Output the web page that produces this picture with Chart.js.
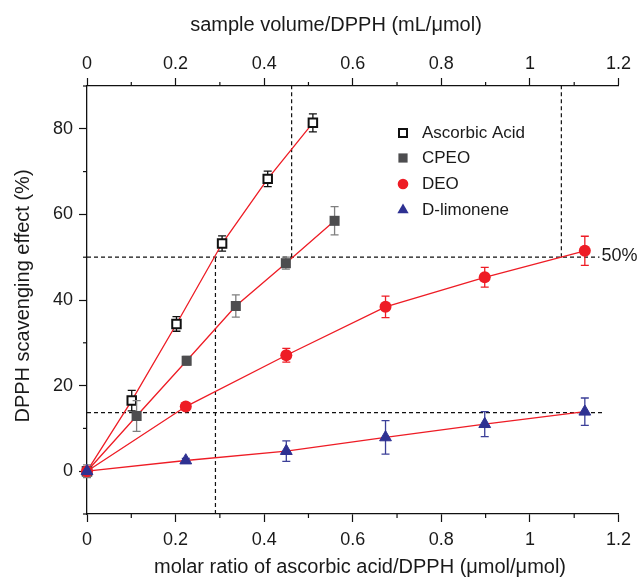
<!DOCTYPE html>
<html><head><meta charset="utf-8">
<script src="https://cdn.jsdelivr.net/npm/chart.js"></script>
<style>html,body{margin:0;padding:0;background:#fff}#wrap{width:638px;height:578px;position:relative}</style>
</head><body><div id="wrap"><canvas id="c" width="638" height="578"></canvas></div>
<script>
// ---- data ----
const seriesNames = ['Ascorbic Acid', 'CPEO', 'DEO', 'D-limonene'];
const ascX = [0, 0.101, 0.202, 0.305, 0.408, 0.510];
const ascY = [0, 16.5, 34.4, 53.2, 68.3, 81.4];
const ascErr = [0, 2.4, 1.7, 1.8, 1.8, 2.1];
const cpeoX = [0, 0.112, 0.225, 0.336, 0.449, 0.559];
const cpeoY = [0, 12.9, 25.8, 38.6, 48.6, 58.5];
const cpeoErr = [1.5, 3.6, 1.0, 2.6, 1.4, 3.3];
const deoX = [0, 0.223, 0.450, 0.674, 0.898, 1.124];
const deoY = [0, 15.1, 27.1, 38.4, 45.3, 51.5];
const deoErr = [0, 0.8, 1.6, 2.5, 2.3, 3.4];
const limX = [0, 0.223, 0.450, 0.674, 0.898, 1.124];
const limY = [0, 2.5, 4.7, 7.9, 11.0, 13.9];
const limErr = [0, 0.5, 2.4, 3.9, 2.9, 3.2];
// reference (dashed) lines
const hRefY = [50, 13.7];
const hRefEndX = [1.157, 1.164];
const vRefX = [0.290, 0.462, 1.071];
const vRefFromY = [-10, 50, 50];
const vRefToY = [50, 90, 90];
const refLabel = '50%';
// axes
const xTickLabels = ['0', '0.2', '0.4', '0.6', '0.8', '1', '1.2'];
const yTickLabels = ['0', '20', '40', '60', '80'];
const xTitle = 'molar ratio of ascorbic acid/DPPH (\u03bcmol/\u03bcmol)';
const x2Title = 'sample volume/DPPH (mL/\u03bcmol)';
const yTitle = 'DPPH scavenging effect (%)';

const TXT = '#1a1a1a';
const FONT = '"Liberation Sans", Arial, sans-serif';
const RED = '#ee1c25';

function pts(xs, ys) { return xs.map((x, i) => ({x: x, y: ys[i]})); }

const datasets = [
  {label: seriesNames[0], data: pts(ascX, ascY), errors: ascErr, errorColor: '#111',
   borderColor: RED, borderWidth: 1.3, pointStyle: 'rect', pointRadius: 6, pointBorderWidth: 2,
   pointBackgroundColor: '#fff', pointBorderColor: '#111', order: 4, clip: false},
  {label: seriesNames[1], data: pts(cpeoX, cpeoY), errors: cpeoErr, errorColor: '#7f7f7f',
   borderColor: RED, borderWidth: 1.3, pointStyle: 'rect', pointRadius: 7.1, pointBorderWidth: 0,
   pointBackgroundColor: '#4d4d4f', pointBorderColor: '#4d4d4f', order: 3, clip: false},
  {label: seriesNames[2], data: pts(deoX, deoY), errors: deoErr, errorColor: RED,
   borderColor: RED, borderWidth: 1.3, pointStyle: 'circle', pointRadius: 6, pointBorderWidth: 0,
   pointBackgroundColor: RED, pointBorderColor: RED, order: 2, clip: false},
  {label: seriesNames[3], data: pts(limX, limY), errors: limErr, errorColor: '#3b3f98',
   borderColor: RED, borderWidth: 1.3, pointStyle: 'triangle', pointRadius: 6.8, pointBorderWidth: 1,
   pointBackgroundColor: '#2e3192', pointBorderColor: '#2e3192', order: 1, clip: false}
];
hRefY.forEach((y, i) => datasets.push({
  label: 'ref', data: [{x: 0, y: y}, {x: hRefEndX[i], y: y}], borderColor: '#111', borderWidth: 1.2,
  borderDash: [4, 3], pointRadius: 0, order: 10, isRef: true, clip: false}));
vRefX.forEach((x, i) => datasets.push({
  label: 'ref', data: [{x: x, y: vRefFromY[i]}, {x: x, y: vRefToY[i]}], borderColor: '#111', borderWidth: 1.2,
  borderDash: [4, 3], pointRadius: 0, order: 10, isRef: true, clip: false}));

const errPlugin = {
  id: 'errbars',
  beforeDatasetDraw(chart, args) {
    const ds = chart.data.datasets[args.index];
    if (!ds.errors) return;
    const ctx = chart.ctx, xs = chart.scales.x, ys = chart.scales.y;
    ctx.save();
    ctx.strokeStyle = ds.errorColor; ctx.lineWidth = 1.3;
    ds.data.forEach((p, i) => {
      const e = ds.errors[i]; if (!e) return;
      const px = xs.getPixelForValue(p.x);
      const y1 = ys.getPixelForValue(p.y + e), y2 = ys.getPixelForValue(p.y - e);
      ctx.beginPath();
      ctx.moveTo(px, y1); ctx.lineTo(px, y2);
      ctx.moveTo(px - 4, y1); ctx.lineTo(px + 4, y1);
      ctx.moveTo(px - 4, y2); ctx.lineTo(px + 4, y2);
      ctx.stroke();
    });
    ctx.restore();
  }
};

const minorTickPlugin = {
  id: 'minorTicks',
  afterDraw(chart) {
    const ctx = chart.ctx;
    ctx.save();
    ctx.strokeStyle = '#111'; ctx.lineWidth = 1.2;
    ['x', 'x2', 'y'].forEach(id => {
      const s = chart.scales[id];
      s.ticks.forEach((t, i) => {
        if (t.label !== '') return;
        const p = s.getPixelForTick(i);
        ctx.beginPath();
        if (id === 'x') { ctx.moveTo(p, s.top); ctx.lineTo(p, s.top + 4); }
        else if (id === 'x2') { ctx.moveTo(p, s.bottom); ctx.lineTo(p, s.bottom - 4); }
        else { ctx.moveTo(s.right, p); ctx.lineTo(s.right - 4, p); }
        ctx.stroke();
      });
    });
    ctx.restore();
  }
};

const textPlugin = {
  id: 'texts',
  afterDraw(chart) {
    const ctx = chart.ctx;
    const xs = chart.scales.x, ys = chart.scales.y;
    ctx.save();
    ctx.fillStyle = TXT;
    ctx.font = '20px ' + FONT;
    ctx.textAlign = 'center'; ctx.textBaseline = 'middle';
    ctx.fillText(xTitle, 360, 567);
    ctx.fillText(x2Title, 336, 25);
    ctx.save();
    ctx.translate(23, 296); ctx.rotate(-Math.PI / 2);
    ctx.fillText(yTitle, 0, 0);
    ctx.restore();
    // 50% label
    ctx.font = '18px ' + FONT;
    ctx.textAlign = 'left';
    ctx.fillText(refLabel, xs.getPixelForValue(hRefEndX[0]) + 2, ys.getPixelForValue(hRefY[0]) - 1);
    // legend
    const lx = 403, tx = 422, rows = [133, 158, 184, 210];
    ctx.font = '17px ' + FONT;
    seriesNames.forEach((name, i) => {
      const y = rows[i];
      const ds = chart.data.datasets[i];
      ctx.save();
      ctx.fillStyle = ds.pointBackgroundColor; ctx.strokeStyle = ds.pointBorderColor;
      ctx.beginPath();
      if (i === 0) { ctx.lineWidth = 2; ctx.rect(lx - 4, y - 4, 8, 8); ctx.fill(); ctx.stroke(); }
      else if (i === 1) { ctx.rect(lx - 4.6, y - 4.6, 9.2, 9.2); ctx.fill(); }
      else if (i === 2) { ctx.arc(lx, y, 5.3, 0, Math.PI * 2); ctx.fill(); }
      else { const r = 6.5; ctx.moveTo(lx, y - r); ctx.lineTo(lx + r * 0.866, y + r * 0.5); ctx.lineTo(lx - r * 0.866, y + r * 0.5); ctx.closePath(); ctx.fill(); }
      ctx.restore();
      ctx.fillStyle = TXT;
      ctx.fillText(name, tx, y);
    });
    ctx.restore();
  }
};

function xTickCb(v) { const i = Math.round(v * 10); return i % 2 === 0 ? xTickLabels[i / 2] : ''; }
function yTickCb(v) { const i = Math.round(v); return (i >= 0 && i % 20 === 0) ? yTickLabels[i / 20] : ''; }
function tickCol(ctx) { return (ctx.tick && ctx.tick.label === '') ? 'rgba(0,0,0,0)' : '#111'; }

const tickFont = {family: FONT, size: 18};

new Chart(document.getElementById('c'), {
  type: 'line',
  data: {datasets: datasets},
  options: {
    responsive: false, animation: false, devicePixelRatio: 1,
    layout: {padding: {left: 0, right: 19, top: 0, bottom: 0}},
    plugins: {legend: {display: false}, tooltip: {enabled: false}},
    elements: {line: {tension: 0, fill: false}},
    scales: {
      x: {type: 'linear', position: 'bottom', min: 0, max: 1.2,
          afterFit(s) { s.height = 64; },
          border: {display: true, color: '#111', width: 1.3},
          grid: {drawOnChartArea: false, drawTicks: true, tickLength: 8, tickColor: tickCol, tickWidth: 1.2},
          ticks: {stepSize: 0.1, autoSkip: false, maxRotation: 0, padding: 7, color: TXT, font: tickFont, callback: xTickCb}},
      x2: {type: 'linear', position: 'top', min: 0, max: 1.2, display: true,
          afterFit(s) { s.height = 86; },
          border: {display: true, color: '#111', width: 1.3},
          grid: {drawOnChartArea: false, drawTicks: true, tickLength: 8, tickColor: tickCol, tickWidth: 1.2},
          ticks: {stepSize: 0.1, autoSkip: false, maxRotation: 0, padding: 3, color: TXT, font: tickFont, callback: xTickCb}},
      y: {type: 'linear', position: 'left', min: -10, max: 90,
          afterFit(s) { s.width = 87; },
          border: {display: true, color: '#111', width: 1.3},
          grid: {drawOnChartArea: false, drawTicks: true, tickLength: 8, tickColor: tickCol, tickWidth: 1.2},
          ticks: {stepSize: 10, autoSkip: false, padding: 6, color: TXT, font: tickFont, callback: yTickCb}}
    }
  },
  plugins: [errPlugin, minorTickPlugin, textPlugin]
});
</script></body></html>
